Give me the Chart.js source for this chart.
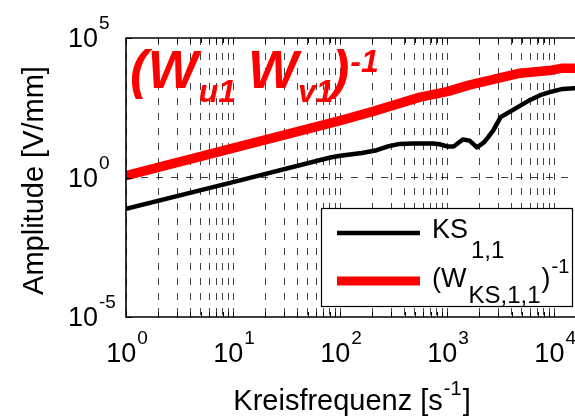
<!DOCTYPE html>
<html><head><meta charset="utf-8">
<script src="https://cdn.jsdelivr.net/npm/chart.js@4"></script>
<style>
html,body{margin:0;padding:0;background:#fff;overflow:hidden;width:575px;height:416px}
#wrap{width:575px;height:416px;overflow:hidden;position:relative;background:#fff}
canvas{display:block}
</style></head>
<body><div id="wrap"><canvas id="c" width="580" height="416"></canvas></div>
<script>
// ---- data ----
const ksFreq = [1, 10, 81, 100, 160, 220, 280, 360, 480, 740, 850, 1000, 1150, 1400, 1620, 1900, 2200, 2400, 2700, 3160, 3630, 5750, 7400, 9100, 12000, 16700];
const ksAmp  = [0.076, 0.68, 5.2, 6.0, 7.6, 9.5, 13, 16, 16.6, 16.6, 15.5, 13, 13, 23, 21, 12, 18, 27, 49, 145, 200, 560, 890, 1150, 1500, 1600];
const wFreq  = [1, 10, 100, 200, 560, 1000, 1600, 4800, 9000, 12000, 16700];
const wAmp   = [1.17, 11.2, 110, 230, 760, 1200, 2050, 5500, 6800, 8300, 8300];

// ---- axes / ticks ----
const xAxisRange = [1, 16700];
const yAxisRange = [1e-5, 1e5];
const xDecades = [1, 10, 100, 1000, 10000];
const xMantissas = [1, 2, 3, 4, 5, 6, 7, 8, 9];
const xTickExponents = ['0', '1', '2', '3', '4'];
const yTickValues = [1e-5, 1, 1e5];
const yTickExponents = ['-5', '0', '5'];
const yGridValues = [1];

const FONT = "'Liberation Sans', Arial, Helvetica, sans-serif";

const xGridValues = [];
xDecades.forEach(d => xMantissas.forEach(m => { const v = d * m; if (v <= xAxisRange[1]) xGridValues.push(v); }));

function runsWidth(ctx, runs) {
  let w = 0;
  for (const r of runs) { ctx.font = r.font; w += ctx.measureText(r.text).width + (r.gap || 0); }
  return w;
}
function drawRuns(ctx, x, y, runs) {
  for (const r of runs) {
    ctx.font = r.font;
    x += (r.gap || 0);
    ctx.fillText(r.text, x, y + (r.dy || 0));
    x += ctx.measureText(r.text).width;
  }
  return x;
}

const overlay = {
  id: 'overlay',
  afterDraw(chart) {
    const ctx = chart.ctx;
    const a = chart.chartArea;
    const xs = chart.scales.x, ys = chart.scales.y;
    ctx.save();
    ctx.fillStyle = '#000';
    ctx.strokeStyle = '#000';
    ctx.textBaseline = 'alphabetic';
    ctx.textAlign = 'left';

    // tick marks (top & bottom, inward)
    ctx.lineWidth = 1;
    ctx.beginPath();
    for (const t of xs.ticks) {
      const px = Math.round(xs.getPixelForValue(t.value)) + 0.5;
      ctx.moveTo(px, a.bottom); ctx.lineTo(px, a.bottom - 5);
      ctx.moveTo(px, a.top); ctx.lineTo(px, a.top + 5);
    }
    for (const v of yTickValues) {
      const py = Math.round(ys.getPixelForValue(v)) + 0.5;
      ctx.moveTo(a.left, py); ctx.lineTo(a.left + 6, py);
    }
    ctx.stroke();

    // frame (left, top, bottom; right edge lies outside the picture)
    ctx.lineWidth = 1.6;
    ctx.beginPath();
    ctx.moveTo(a.right, a.top); ctx.lineTo(a.left, a.top); ctx.lineTo(a.left, a.bottom); ctx.lineTo(a.right, a.bottom);
    ctx.stroke();

    // x tick labels 10^n
    xDecades.forEach((d, i) => {
      const px = xs.getPixelForValue(d);
      const runs = [{text: '10', font: `27px ${FONT}`}, {text: xTickExponents[i], font: `19px ${FONT}`, dy: -18, gap: 1}];
      const w = runsWidth(ctx, runs);
      drawRuns(ctx, px - w / 2 + 1, 362, runs);
    });

    // y tick labels 10^n
    yTickValues.forEach((v, i) => {
      const py = ys.getPixelForValue(v);
      const runs = [{text: '10', font: `27px ${FONT}`}, {text: yTickExponents[i], font: `19px ${FONT}`, dy: -18, gap: 1}];
      drawRuns(ctx, 68, py + 9, runs);
    });

    // x axis title
    {
      const runs = [{text: 'Kreisfrequenz [s', font: `29px ${FONT}`}, {text: '-1', font: `20px ${FONT}`, dy: -15, gap: 1}, {text: ']', font: `29px ${FONT}`, gap: 1}];
      const w = runsWidth(ctx, runs);
      drawRuns(ctx, (a.left + a.right) / 2 - w / 2, 410, runs);
    }
    // y axis title
    ctx.save();
    ctx.translate(43, (a.top + a.bottom) / 2 + 3);
    ctx.rotate(-Math.PI / 2);
    ctx.font = `29px ${FONT}`;
    ctx.textAlign = 'center';
    ctx.fillText('Amplitude [V/mm]', 0, 0);
    ctx.restore();
    ctx.textAlign = 'left';

    // big red annotation
    ctx.fillStyle = '#ff0000';
    const big = `italic bold 53px ${FONT}`, small = `italic bold 32px ${FONT}`;
    let x = drawRuns(ctx, 130, 88, [{text: '(W', font: big}, {text: 'u1', font: small, dy: 14, gap: 1}]);
    x = drawRuns(ctx, x + 12, 88, [{text: 'W', font: big}, {text: 'v1', font: small, dy: 14, gap: 0}]);
    drawRuns(ctx, x - 2, 88, [{text: ')', font: big}, {text: '-1', font: small, dy: -16, gap: 1}]);

    // legend
    ctx.fillStyle = '#fff';
    ctx.fillRect(321, 208, 251, 99);
    ctx.strokeStyle = '#000';
    ctx.lineWidth = 1.2;
    ctx.strokeRect(321.5, 208.5, 251, 98);
    ctx.lineCap = 'butt';
    ctx.beginPath(); ctx.lineWidth = 4.5; ctx.strokeStyle = '#000';
    ctx.moveTo(337, 233); ctx.lineTo(420, 233); ctx.stroke();
    ctx.beginPath(); ctx.lineWidth = 9; ctx.strokeStyle = '#ff0000';
    ctx.moveTo(337, 281); ctx.lineTo(420, 281); ctx.stroke();
    ctx.fillStyle = '#000';
    drawRuns(ctx, 432, 238, [{text: 'KS', font: `27px ${FONT}`}, {text: '1,1', font: `24px ${FONT}`, dy: 20, gap: 3}]);
    drawRuns(ctx, 432, 287, [{text: '(W', font: `27px ${FONT}`}, {text: 'KS,1,1', font: `24px ${FONT}`, dy: 16, gap: 2},
                             {text: ')', font: `27px ${FONT}`, gap: 1}, {text: '-1', font: `20px ${FONT}`, dy: -14, gap: 1}]);
    ctx.restore();
  }
};

new Chart(document.getElementById('c'), {
  type: 'line',
  data: {
    datasets: [
      {label: 'KS1,1', data: ksFreq.map((f, i) => ({x: f, y: ksAmp[i]})), borderColor: '#000', borderWidth: 4.5, pointRadius: 0, tension: 0, borderJoinStyle: 'round'},
      {label: '(WKS,1,1)^-1', data: wFreq.map((f, i) => ({x: f, y: wAmp[i]})), borderColor: '#ff0000', borderWidth: 9.5, pointRadius: 0, tension: 0, borderJoinStyle: 'round'}
    ]
  },
  options: {
    responsive: false,
    animation: false,
    devicePixelRatio: 1,
    layout: {padding: {left: 126, top: 38, right: 2, bottom: 99}},
    plugins: {legend: {display: false}, tooltip: {enabled: false}},
    scales: {
      x: {
        type: 'logarithmic', min: xAxisRange[0], max: xAxisRange[1],
        afterBuildTicks: s => { s.ticks = xGridValues.map(v => ({value: v})); },
        ticks: {display: false},
        grid: {color: 'rgba(0,0,0,0.75)', lineWidth: 1, drawTicks: false},
        border: {display: false, dash: [7, 8]}
      },
      y: {
        type: 'logarithmic', min: yAxisRange[0], max: yAxisRange[1],
        afterBuildTicks: s => { s.ticks = yGridValues.map(v => ({value: v})); },
        ticks: {display: false},
        grid: {color: 'rgba(0,0,0,0.75)', lineWidth: 1, drawTicks: false},
        border: {display: false, dash: [7, 8]}
      }
    }
  },
  plugins: [overlay]
});
</script>
</body></html>
